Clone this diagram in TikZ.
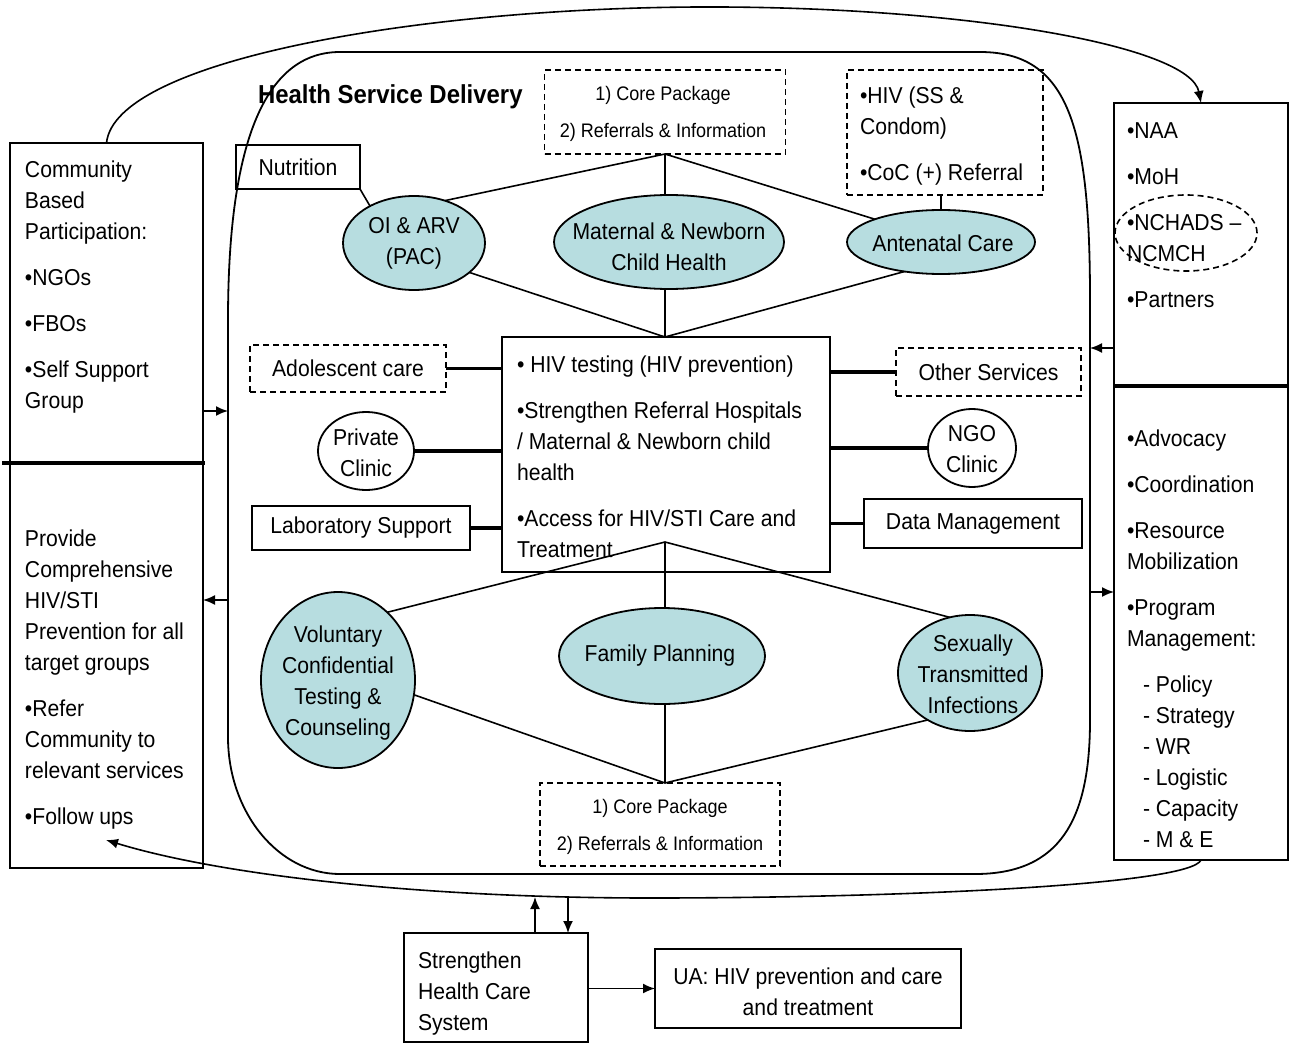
\documentclass[tikz,border=0pt]{standalone}
\usepackage{fontspec}
\setmainfont{Liberation Sans}[FakeStretch=0.92]
\usetikzlibrary{arrows.meta,shapes.geometric,calc}
\definecolor{ellfill}{RGB}{183,221,224}
\begin{document}
\begin{tikzpicture}[x=0.5pt,y=-0.5pt,
  every node/.style={inner sep=0pt,outer sep=0pt},
  txt/.style={font=\fontsize{11.5}{15.5}\selectfont},
  smalltxt/.style={font=\fontsize{9.8}{18.5}\selectfont},
  box/.style={draw,line width=0.9pt,rectangle},
  dbox/.style={draw,line width=0.9pt,rectangle,dash pattern=on 3pt off 2pt},
  ell/.style={draw,ellipse,line width=0.9pt,fill=ellfill},
  circ/.style={draw,ellipse,line width=0.9pt,fill=white},
  link/.style={line width=0.8pt},
  tlink/.style={line width=1.6pt},
  arr/.style={-{Latex[length=6pt,width=5pt]},line width=0.8pt}]
\useasboundingbox (0,0) rectangle (1289,1043);

% container
\draw[line width=0.9pt] (340,52) -- (980,52) .. controls (1070,52) and (1090,130) .. (1090,300)
  -- (1090,720) .. controls (1090,820) and (1060,874) .. (975,874)
  -- (340,874) .. controls (278,874) and (228,812) .. (228,737)
  -- (228,320) .. controls (228,160) and (258,52) .. (340,52) -- cycle;
\node[font=\bfseries\fontsize{13}{15}\selectfont,anchor=base west] (title) at (258,104) {Health Service Delivery};

% side boxes
\node[box,minimum width=96.5pt,minimum height=362.5pt] (leftbox) at (106.5,505.5) {};
\node[box,minimum width=87pt,minimum height=378.5pt] (rightbox) at (1201,481.5) {};
\draw[line width=1.6pt] (2,463) -- (205,463);
\draw[line width=1.6pt] (1113,386) -- (1289,386);

\node[txt,align=left,anchor=base west] (lt) at (25,408)
 {Community\\Based\\Participation:\\[7.5pt]•NGOs\\[7.5pt]•FBOs\\[7.5pt]•Self Support\\Group};
\node[txt,align=left,anchor=base west] (lb) at (25,824)
 {Provide\\Comprehensive\\HIV/STI\\Prevention for all\\target groups\\[7.5pt]•Refer\\Community to\\relevant services\\[7.5pt]•Follow ups};
\node[txt,align=left,anchor=base west] (rt) at (1127,307)
 {•NAA\\[7.5pt]•MoH\\[7.5pt]•NCHADS –\\NCMCH\\[7.5pt]•Partners};
\node[draw,ellipse,line width=0.8pt,dash pattern=on 3pt off 2pt,minimum width=71pt,minimum height=38pt] (nch) at (1186,233) {};
\node[txt,align=left,anchor=base west] (rb) at (1127,646)
 {•Advocacy\\[7.5pt]•Coordination\\[7.5pt]•Resource\\Mobilization\\[7.5pt]•Program\\Management:};
\node[txt,align=left,anchor=base west] (rbl) at (1143,847)
 {- Policy\\- Strategy\\- WR\\- Logistic\\- Capacity\\- M \& E};

% top area
\node[dbox,minimum width=120.5pt,minimum height=42pt] (pkgtop) at (665,112) {};
\node[smalltxt,align=center] (pkgtopt) at (663,113.5) {1) Core Package\\2) Referrals \& Information};
\node[dbox,minimum width=98pt,minimum height=62.5pt] (hivbox) at (945,132.5) {};
\node[txt,align=left,anchor=base west] (hivt) at (860,181) {•HIV (SS \&\\Condom)\\[7.5pt]•CoC (+) Referral};
\node[box,txt,minimum width=62pt,minimum height=22pt] (nutri) at (298,167) {Nutrition};

\node[ell,minimum width=71pt,minimum height=47pt] (oi) at (414,243) {};
\node[txt,align=center] (oit) at (414,243) {OI \& ARV\\(PAC)};
\node[ell,minimum width=115pt,minimum height=47pt] (mat) at (669,242) {};
\node[txt,align=center] (matt) at (669,247) {Maternal \& Newborn\\Child Health};
\node[ell,minimum width=94pt,minimum height=32pt] (ante) at (941,242) {};
\node[txt] (antet) at (943,243) {Antenatal Care};

% centre
\node[box,minimum width=164pt,minimum height=117.5pt] (central) at (666,454.5) {};
\node[txt,align=left,anchor=base west] (centt) at (517,557)
 {• HIV testing (HIV prevention)\\[7.5pt]•Strengthen Referral Hospitals\\/ Maternal \& Newborn child\\health\\[7.5pt]•Access for HIV/STI Care and\\Treatment};

\node[dbox,txt,minimum width=98pt,minimum height=23.5pt] (adol) at (348,368.5) {Adolescent care};
\node[circ,minimum width=48pt,minimum height=39pt] (priv) at (366,451) {};
\node[txt,align=center] (privt) at (366,453) {Private\\Clinic};
\node[box,txt,minimum width=109pt,minimum height=22pt] (lab) at (361,528) {Laboratory Support};
\node[dbox,txt,minimum width=92.5pt,minimum height=24pt] (other) at (988.5,372) {Other Services};
\node[circ,minimum width=44pt,minimum height=39pt] (ngo) at (972,448) {};
\node[txt,align=center] (ngot) at (972,449) {NGO\\Clinic};
\node[box,txt,minimum width=109pt,minimum height=24.5pt] (data) at (973,523.5) {Data Management};

% lower area
\node[ell,minimum width=77pt,minimum height=88pt] (vct) at (338,680) {};
\node[txt,align=center] (vctt) at (338,683) {Voluntary\\Confidential\\Testing \&\\Counseling};
\node[ell,minimum width=103pt,minimum height=48pt] (fp) at (662,656) {};
\node[txt] (fpt) at (660,656) {Family Planning};
\node[ell,minimum width=72pt,minimum height=58pt] (sti) at (970,673) {};
\node[txt,align=center] (stit) at (973,674) {Sexually\\Transmitted\\Infections};
\node[dbox,minimum width=120pt,minimum height=41.5pt] (pkgbot) at (660,824.5) {};
\node[smalltxt,align=center] (pkgbott) at (660,827) {1) Core Package\\2) Referrals \& Information};

% bottom boxes
\node[box,minimum width=92pt,minimum height=54.5pt] (streng) at (496,987.5) {};
\node[txt,align=left,anchor=base west] (strengt) at (418,1030) {Strengthen\\Health Care\\System};
\node[box,minimum width=153pt,minimum height=39.5pt] (ua) at (808,988.5) {};
\node[txt,align=center] (uat) at (808,992) {UA: HIV prevention and care\\and treatment};

% diamonds
\coordinate (d1t) at (665,154);
\coordinate (d1b) at (665,337);
\draw[link] (d1t) -- (oi.54);
\draw[link] (d1t) -- (d1t |- mat.north);
\draw[link] (d1t) -- (ante.161);
\draw[link] (oi.-28) -- (d1b);
\draw[link] (d1b |- mat.south) -- (d1b);
\draw[link] (ante.219) -- (d1b);
\draw[link] (nutri.south east) -- (oi.140);
\draw[link] (ante.north |- hivbox.south) -- (ante.north);

\coordinate (d2t) at (665,542);
\coordinate (d2b) at (665,783);
\draw[link] (d2t) -- (vct.54);
\draw[link] (d2t) -- (d2t |- fp.north);
\draw[link] (d2t) -- (sti.110);
\draw[link] (vct.-11) -- (d2b);
\draw[link] (d2b |- fp.south) -- (d2b);
\draw[link] (sti.228) -- (d2b);

% thick connectors
\draw[tlink] (adol.east) -- (central.west |- adol.east);
\draw[tlink] (priv.east) -- (central.west |- priv.east);
\draw[tlink] (lab.east) -- (central.west |- lab.east);
\draw[tlink] (central.east |- other.west) -- (other.west);
\draw[tlink] (central.east |- ngo.west) -- (ngo.west);
\draw[tlink] (central.east |- data.west) -- (data.west);

% arrows between side boxes and container
\coordinate (cl1) at (228,411);
\coordinate (cl2) at (228,600);
\coordinate (cr1) at (1090,348);
\coordinate (cr2) at (1090,592);
\draw[arr] (leftbox.east |- cl1) -- (cl1);
\draw[arr] (cl2) -- (leftbox.east |- cl2);
\draw[arr] (rightbox.west |- cr1) -- (cr1);
\draw[arr] (cr2) -- (rightbox.west |- cr2);

% big arcs
\draw[arr] (leftbox.north) .. controls (115,60) and (420,8) .. (700,7)
  .. controls (960,6) and (1190,45) .. (rightbox.north);
\coordinate (fu) at (106,840);
\draw[arr] (rightbox.south) .. controls (1190,885) and (900,898) .. (650,898)
  .. controls (420,898) and (220,875) .. (fu);

% strengthen arrows
\coordinate (s1) at (535,897);
\coordinate (s2) at (568,898);
\draw[arr] (streng.north -| s1) -- (s1);
\draw[arr] (s2) -- (streng.north -| s2);
\draw[arr] (streng.east |- ua.west) -- (ua.west);
\end{tikzpicture}
\end{document}
